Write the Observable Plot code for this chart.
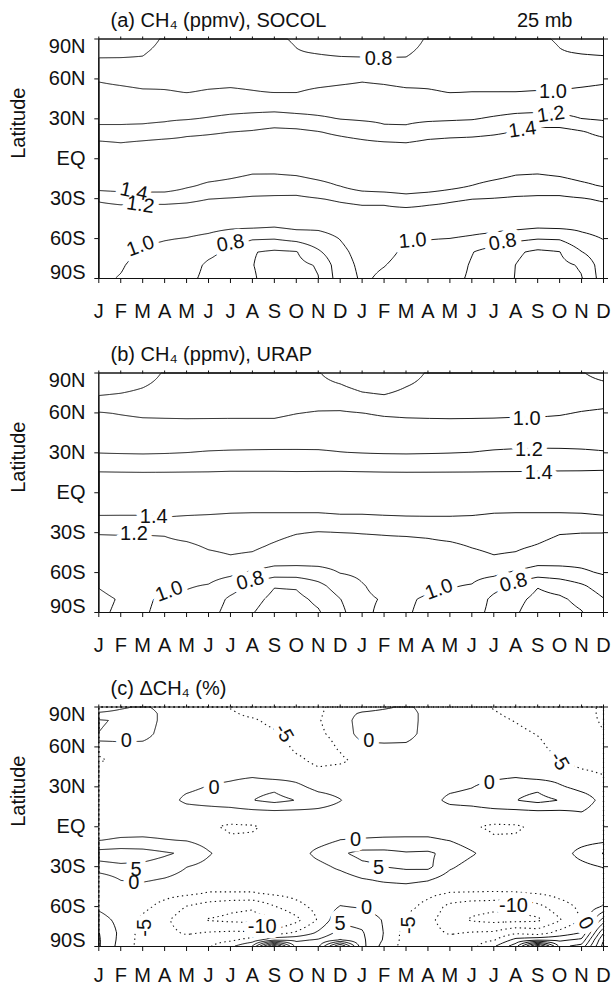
<!DOCTYPE html>
<html>
<head>
<meta charset="utf-8">
<script src="https://cdn.jsdelivr.net/npm/d3@7"></script>
<script src="https://cdn.jsdelivr.net/npm/@observablehq/plot@0.6"></script>
<style>
  html, body { margin: 0; padding: 0; background: #fff; }
  svg { display: block; }
</style>
</head>
<body>
<div id="chart"></div>
<script>
// ---- Axis categories ----
const monthLetters = ["J","F","M","A","M","J","J","A","S","O","N","D","J","F","M","A","M","J","J","A","S","O","N","D"];
const monthIndex = monthLetters.map((_, i) => i);
const latTicks = [90, 60, 30, 0, -30, -60, -90];
const latTickLabels = ["90N", "60N", "30N", "EQ", "30S", "60S", "90S"];

// ---- Grid latitudes (rows, north to south) ----
const latGridAB = [90, 80, 70, 60, 50, 40, 30, 20, 10, 0, -10, -20, -30, -40, -50, -60, -70, -80, -90];
const latGridC = [90, 85, 80, 70, 60, 50, 40, 30, 20, 10, 0, -10, -20, -30, -40, -50, -60, -70, -80, -85, -90];

// ---- (a) SOCOL CH4 (ppmv), 25 mb: rows = latGridAB, columns = 24 months ----
const ch4Socol = [
  [0.64,0.66,0.70,0.83,0.85,0.86, 0.86,0.85,0.83,0.78,0.71,0.68, 0.65,0.65,0.68,0.83,0.85,0.86, 0.86,0.85,0.83,0.78,0.71,0.68],
  [0.75,0.76,0.78,0.87,0.88,0.89, 0.89,0.88,0.87,0.81,0.79,0.77, 0.76,0.76,0.77,0.87,0.88,0.89, 0.89,0.88,0.87,0.81,0.79,0.776],
  [0.87,0.86,0.85,0.91,0.92,0.92, 0.925,0.92,0.91,0.87,0.867,0.867, 0.873,0.863,0.855,0.91,0.92,0.925, 0.925,0.92,0.91,0.875,0.87,0.872],
  [0.985,0.96,0.94,0.96,0.96,0.965, 0.97,0.965,0.955,0.94,0.945,0.962, 0.983,0.968,0.945,0.965,0.96,0.965, 0.965,0.965,0.96,0.945,0.95,0.969],
  [1.05,1.04,1.02,1.01,0.997,1.01, 1.016,1.006,0.997,0.997,1.028,1.045, 1.054,1.045,1.028,1.012,0.997,1.001, 1.001,1.001,1.006,1.01,1.03,1.045],
  [1.11,1.11,1.10,1.09,1.09,1.109, 1.122,1.126,1.127,1.115,1.121,1.121, 1.118,1.109,1.098,1.093,1.088,1.095, 1.108,1.121,1.124,1.116,1.115,1.113],
  [1.17,1.17,1.17,1.18,1.19,1.213, 1.241,1.261,1.28,1.257,1.227,1.196, 1.181,1.173,1.168,1.174,1.181,1.19, 1.222,1.254,1.27,1.25,1.201,1.18],
  [1.24,1.24,1.25,1.27,1.35,1.376, 1.401,1.42,1.458,1.448,1.41,1.358, 1.312,1.24,1.24,1.302,1.323,1.341, 1.37,1.41,1.47,1.48,1.42,1.337],
  [1.48,1.44,1.48,1.52,1.50,1.50, 1.51,1.52,1.53,1.53,1.52,1.50, 1.47,1.46,1.44,1.48,1.50,1.50, 1.51,1.52,1.53,1.54,1.52,1.50],
  [1.54,1.54,1.54,1.54,1.54,1.54, 1.54,1.54,1.54,1.54,1.54,1.54, 1.54,1.54,1.54,1.54,1.54,1.54, 1.54,1.54,1.54,1.54,1.54,1.54],
  [1.54,1.56,1.56,1.55,1.54,1.52, 1.47,1.42,1.42,1.44,1.49,1.52, 1.55,1.56,1.56,1.55,1.54,1.52, 1.49,1.43,1.42,1.45,1.50,1.52],
  [1.52,1.56,1.57,1.56,1.44,1.36, 1.33,1.29,1.28,1.29,1.34,1.41, 1.52,1.56,1.58,1.56,1.48,1.401, 1.34,1.30,1.28,1.30,1.36,1.42],
  [1.21,1.225,1.235,1.24,1.23,1.203, 1.192,1.18,1.176,1.17,1.195,1.22, 1.24,1.24,1.30,1.25,1.22,1.203, 1.195,1.18,1.176,1.17,1.19,1.22],
  [1.17,1.171,1.152,1.147,1.138,1.127, 1.115,1.107,1.102,1.10,1.12,1.146, 1.16,1.16,1.15,1.15,1.15,1.133, 1.12,1.11,1.10,1.10,1.12,1.14],
  [1.14,1.132,1.089,1.077,1.065,1.052, 1.038,1.05,1.03,1.07,1.045,1.07, 1.12,1.12,1.10,1.085,1.075,1.06, 1.06,1.08,1.05,1.06,1.05,1.07],
  [1.11,1.093,1.028,1.007,0.995,0.967, 0.91,0.82,0.81,0.86,0.93,1.005, 1.09,1.08,1.01,1.005,0.999,0.98, 0.95,0.85,0.81,0.82,0.95,1.005],
  [1.08,1.054,0.976,0.965,0.95,0.856, 0.75,0.61,0.57,0.59,0.77,0.96, 1.06,1.04,0.975,0.96,0.93,0.81, 0.70,0.63,0.56,0.595,0.795,0.95],
  [1.05,1.016,0.94,0.93,0.90,0.76, 0.70,0.605,0.53,0.55,0.615,0.925, 1.04,1.005,0.95,0.92,0.90,0.78, 0.70,0.598,0.52,0.55,0.62,0.92],
  [1.03,0.99,0.93,0.89,0.86,0.74, 0.66,0.62,0.52,0.53,0.595,0.90, 1.025,0.97,0.92,0.88,0.86,0.77, 0.67,0.595,0.51,0.53,0.59,0.90]
];

// ---- (b) URAP CH4 (ppmv) ----
const ch4Urap = [
  [0.64,0.66,0.70,0.82,0.84,0.85, 0.85,0.85,0.84,0.82,0.81,0.72, 0.66,0.64,0.70,0.82,0.84,0.85, 0.85,0.85,0.84,0.83,0.81,0.75],
  [0.71,0.74,0.79,0.86,0.88,0.885, 0.885,0.885,0.88,0.86,0.85,0.818, 0.75,0.72,0.796,0.86,0.88,0.885, 0.885,0.885,0.88,0.87,0.85,0.833],
  [0.84,0.855,0.877,0.91,0.92,0.925, 0.925,0.925,0.92,0.92,0.93,0.922, 0.867,0.847,0.884,0.91,0.92,0.925, 0.925,0.925,0.92,0.92,0.93,0.941],
  [1.01,0.99,0.972,0.97,0.97,0.97, 0.97,0.97,0.97,0.995,1.012,1.016, 1.001,0.98,0.972,0.97,0.97,0.97, 0.97,0.975,0.975,0.985,1.009,1.027],
  [1.072,1.061,1.049,1.044,1.039,1.041, 1.043,1.043,1.043,1.067,1.078,1.079, 1.066,1.057,1.048,1.043,1.039,1.042, 1.047,1.052,1.054,1.063,1.077,1.086],
  [1.135,1.126,1.119,1.119,1.12,1.124, 1.127,1.128,1.129,1.139,1.143,1.142, 1.131,1.124,1.118,1.117,1.118,1.122, 1.13,1.136,1.139,1.141,1.144,1.145],
  [1.197,1.192,1.188,1.193,1.201,1.213, 1.219,1.222,1.224,1.221,1.218,1.205, 1.197,1.191,1.188,1.192,1.197,1.204, 1.22,1.229,1.233,1.23,1.222,1.21],
  [1.34,1.334,1.33,1.332,1.336,1.34, 1.35,1.35,1.35,1.345,1.348,1.349, 1.342,1.335,1.332,1.333,1.335,1.337, 1.342,1.345,1.349,1.355,1.357,1.359],
  [1.48,1.48,1.48,1.48,1.48,1.48, 1.48,1.48,1.48,1.48,1.48,1.48, 1.48,1.48,1.48,1.48,1.48,1.48, 1.48,1.48,1.48,1.48,1.48,1.49],
  [1.55,1.55,1.55,1.55,1.55,1.55, 1.55,1.55,1.55,1.55,1.55,1.55, 1.55,1.55,1.55,1.55,1.55,1.55, 1.55,1.55,1.55,1.55,1.55,1.55],
  [1.49,1.49,1.49,1.50,1.50,1.49, 1.47,1.46,1.46,1.46,1.47,1.48, 1.48,1.49,1.49,1.50,1.50,1.50, 1.47,1.46,1.46,1.46,1.47,1.49],
  [1.362,1.36,1.36,1.38,1.36,1.35, 1.34,1.34,1.34,1.34,1.33,1.35, 1.35,1.36,1.37,1.37,1.37,1.36, 1.34,1.34,1.34,1.34,1.34,1.36],
  [1.208,1.21,1.21,1.215,1.26,1.29, 1.29,1.28,1.25,1.21,1.19,1.198, 1.205,1.21,1.22,1.23,1.26,1.28, 1.29,1.28,1.26,1.21,1.202,1.201],
  [1.154,1.16,1.155,1.16,1.17,1.22, 1.24,1.23,1.18,1.13,1.14,1.14, 1.15,1.16,1.15,1.16,1.17,1.21, 1.24,1.23,1.19,1.14,1.14,1.14],
  [1.105,1.12,1.11,1.11,1.10,1.15, 1.18,1.16,1.10,1.09,1.08,1.075, 1.09,1.12,1.11,1.11,1.10,1.14, 1.18,1.16,1.09,1.08,1.06,1.08],
  [1.056,1.09,1.07,1.07,1.055,1.067, 1.04,0.97,0.90,0.90,0.93,1.005, 1.03,1.08,1.07,1.07,1.05,1.06, 1.05,0.97,0.90,0.92,0.97,1.02],
  [1.007,1.05,1.04,1.03,1.012,0.99, 0.90,0.74,0.61,0.62,0.74,0.90, 0.99,1.05,1.04,1.025,1.01,0.99, 0.873,0.74,0.61,0.67,0.77,0.90],
  [0.97,1.01,1.015,0.985,0.97,0.93, 0.76,0.66,0.55,0.55,0.64,0.795, 0.975,1.01,1.015,0.985,0.965,0.93, 0.75,0.65,0.55,0.57,0.65,0.79],
  [0.98,1.02,1.01,0.977,0.93,0.88, 0.72,0.61,0.50,0.52,0.58,0.74, 0.97,1.03,1.01,0.975,0.93,0.88, 0.74,0.62,0.50,0.53,0.59,0.75]
];

// ---- (c) Delta CH4 (%): rows = latGridC ----
const dCh4 = [
  [-4,-1,1,-2,-3,-3, -5.2,-6.5,-7,-7,-6,-3, -3,-1,1,-2,-3,-3, -5.3,-6.5,-7,-7.5,-7,-4],
  [1,2,3,-1.5,-3,-3, -4.5,-5.8,-6.8,-7,-5.5,-3, 1,2,2.5,-2,-3,-3, -4.6,-6,-7,-7.5,-7,-4],
  [5.4,4.5,3,-1.5,-3,-3, -4,-4.5,-6,-7,-5.2,-3.5, 3,3,2.5,-2,-3,-3, -4,-5.2,-6.5,-7.5,-6.5,-4.5],
  [4.95,4,2,-2,-3,-3, -3.5,-3.5,-4.5,-6.5,-5.5,-4, 2.5,3,2,-2,-3,-3, -3.5,-4,-5.2,-7,-6.5,-5.2],
  [-4,-2.5,-1.5,-2.5,-3,-3, -3,-3,-3,-5.8,-6.5,-4.6, -1.5,-1.2,-1,-2.5,-3,-3, -3,-3,-4,-6.5,-7,-6.5],
  [-5.5,-4,-3,-2.5,-2.5,-2.5, -2.5,-2.5,-2.5,-4.2,-6,-5.6, -4,-3,-2.5,-2.5,-2.5,-2.5, -2.5,-2.5,-2.5,-5.2,-6.5,-6.5],
  [-2,-3,-2.5,-1.5,-1.5,-2.5, -2,-1.5,-3.2,-2.5,-4,-3.5, -3,-3,-3,-2.5,-2,-2.5, -2,-1.5,-3.2,-2.5,-4.2,-5.2],
  [-2.5,-2.5,-2.5,-1.5,-1,0.2, 1.5,3.5,4,1.2,-1.5,-2, -2.5,-2.5,-2.5,-2,-1.2,-0.2, 2,3.5,4,0.6,-1.5,-2.5],
  [-2.5,-2.5,-2.5,-2,1,2, 3,4.9,6.5,4.9,2.5,0.2, -2.5,-2.5,-2.5,-2,1.2,2, 3.5,4.9,6.5,4.9,2.5,-1.5],
  [-2.5,-2.5,-2.5,-2.5,-2.5,-2.5, -2.5,-2,-1.8,-1.8,-1.5,-2, -2.5,-2.5,-2.5,-2.5,-2.5,-2.5, -2,-2,-1.7,-1.5,-0.3,-2.5],
  [-2.5,-2.5,-2.5,-2.5,-3,-4.5, -5.6,-5.4,-4,-3,-2.5,-2.5, -2.5,-2.5,-2.5,-2.5,-3,-4.6, -5.7,-5.5,-4.2,-2.5,-2.5,-2.5],
  [-0.2,0.6,0.8,0.2,-0.3,-2, -4.5,-4.4,-3.5,-2.5,-2,0.05, 0.4,0.7,0.8,0.8,-0.2,-2.5, -4.5,-4.5,-3.5,-2.5,-2,-1.2],
  [7,7.5,7,5.6,4.3,0.5, -2.5,-2.5,-2.5,-2.5,1.5,4.2, 6.5,6.5,5.5,5.8,3.5,0.6, -2.5,-2.5,-2.5,-2.5,1.8,5.3],
  [3.5,4.2,4,3,0.1,-1.5, -2.5,-2.5,-2.5,-2.5,-1.5,1, 3.8,5.05,6,6.2,0.8,-2, -2.5,-2.5,-2.5,-2.5,-1.5,0.3],
  [-4,0.1,0.6,-0.5,-2,-2.5, -2.5,-2.5,-2.5,-2.5,-2.5,-2.5, -0.5,0.6,1.2,0.3,-2.5,-2.5, -2.5,-2.5,-2.5,-2.5,-2.5,-3],
  [-2.5,-3,-3,-3.5,-4,-5.3, -5.3,-5.3,-4.2,-3.5,-2.5,-2.5, -2.5,-3,-3,-3.8,-5.2,-5.3, -5.4,-5.3,-4.8,-3.5,-2.5,-2.5],
  [-1,-3,-3.8,-6.5,-10.2,-12.5, -14,-14.5,-10.3,-6.5,-3.5,0.2, -0.5,-2.5,-3.5,-6.5,-11.5,-13.5, -14,-14.5,-11.5,-7,-4,0.5],
  [2,-1.5,-6,-9,-13,-15.3, -16,-16.5,-16.5,-11.5,-4.5,4, 3.5,-0.5,-6,-8.5,-13,-15.5, -16.5,-16.5,-16,-10.5,-4.5,12],
  [5.2,-1.2,-7,-8.5,-10.5,-9.5, -9,-9,-7,-4,1,7, 5.5,-0.2,-7,-8,-10.5,-9.5, -9,-5.5,-7,-3,0.5,25],
  [5.5,-1.5,-7,-7.5,-8,-7, -6,-3,3.5,4,5.5,10, 6,-0.5,-7,-7.5,-8,-7, -5.5,1.5,3.5,4,6,30],
  [5.5,-2,-7,-7,-6.5,-5.5, -1,5.5,35,8,9,32, 6.5,-2,-7,-7,-7,-6.5, -0.5,8,35,9,12,32]
];

// ---- Contour levels ----
const levelsAB = [0.6, 0.8, 1.0, 1.2, 1.4];
const levelsCpos = [0, 5, 10, 15, 20, 25, 30];
const levelsCneg = [-15, -10, -5];

// ---- Contour labels (month position, latitude, text, rotation) ----
const labelsA = [
  {m: 12.75, lat: 75.5, t: "0.8", r: 0},
  {m: 20.7, lat: 50.5, t: "1.0", r: 0},
  {m: 20.6, lat: 33.5, t: "1.2", r: -8},
  {m: 19.3, lat: 22, t: "1.4", r: -8},
  {m: 1.6, lat: -24.5, t: "1.4", r: 12},
  {m: 1.9, lat: -34.5, t: "1.2", r: 8},
  {m: 1.9, lat: -65.5, t: "1.0", r: -20},
  {m: 6.0, lat: -63.5, t: "0.8", r: -10},
  {m: 14.3, lat: -61.5, t: "1.0", r: -5},
  {m: 18.4, lat: -62.5, t: "0.8", r: -10}
];
const labelsB = [
  {m: 19.5, lat: 55.5, t: "1.0", r: 0},
  {m: 19.6, lat: 32.8, t: "1.2", r: 0},
  {m: 20.05, lat: 15.4, t: "1.4", r: 0},
  {m: 2.5, lat: -17.6, t: "1.4", r: 0},
  {m: 1.6, lat: -31, t: "1.2", r: 0},
  {m: 3.2, lat: -74, t: "1.0", r: -20},
  {m: 6.9, lat: -66, t: "0.8", r: -15},
  {m: 15.5, lat: -72.5, t: "1.0", r: -20},
  {m: 18.9, lat: -67.5, t: "0.8", r: -15}
];
const labelsC = [
  {m: 1.25, lat: 64.4, t: "0", r: 0},
  {m: 8.45, lat: 70.5, t: "-5", r: 60},
  {m: 12.3, lat: 64.5, t: "0", r: 0},
  {m: 21.0, lat: 49.5, t: "-5", r: 60},
  {m: 5.25, lat: 29.5, t: "0", r: 0},
  {m: 17.8, lat: 33, t: "0", r: 0},
  {m: 11.7, lat: -10, t: "0", r: 0},
  {m: 12.75, lat: -30.5, t: "5", r: 0},
  {m: 1.7, lat: -32.5, t: "5", r: 0},
  {m: 1.6, lat: -42, t: "0", r: 0},
  {m: 2.1, lat: -76, t: "-5", r: -90},
  {m: 7.45, lat: -75, t: "-10", r: 0},
  {m: 12.2, lat: -60.8, t: "0", r: 0},
  {m: 11.0, lat: -72.5, t: "5", r: 0},
  {m: 14.1, lat: -74, t: "-5", r: -90},
  {m: 18.9, lat: -59, t: "-10", r: 0},
  {m: 22.2, lat: -72.5, t: "0", r: 60}
];

// Bilinear sampling of a (lat x month) grid, for Plot.contour's value function
function gridField(grid, lats) {
  const nx = grid[0].length;
  return (x, y) => {
    const mx = Math.max(0, Math.min(nx - 1 - 1e-9, x));
    const i = Math.floor(mx), tx = mx - i;
    const yy = Math.max(lats[lats.length - 1], Math.min(lats[0], y));
    let j = 0;
    while (j < lats.length - 2 && yy < lats[j + 1]) j++;
    const ty = (lats[j] - yy) / (lats[j] - lats[j + 1]);
    const a = grid[j][i], b = grid[j][i + 1], c = grid[j + 1][i], d = grid[j + 1][i + 1];
    return (a * (1 - tx) + b * tx) * (1 - ty) + (c * (1 - tx) + d * tx) * ty;
  };
}

const FONT = "'Liberation Sans', Arial, Helvetica, sans-serif";
const INK = "#111";
const xExtent = [0, monthIndex.length - 1];

function panel({grid, lats, solid, dotted, labels, title, note, height, marginBottom, monthDy}) {
  const f = gridField(grid, lats);
  const bounds = {x1: xExtent[0], x2: xExtent[1], y1: lats[0], y2: lats[lats.length - 1]};
  const marks = [
    Plot.contour(null, {...bounds, value: f, thresholds: solid, stroke: INK, fill: "none", strokeWidth: 1, pixelSize: 1})
  ];
  if (dotted) {
    marks.push(Plot.contour(null, {...bounds, value: f, thresholds: dotted, stroke: INK, fill: "none", strokeWidth: 1.1, strokeDasharray: "1.4,3.4", pixelSize: 1}));
  }
  const labelOpts = {x: "m", y: "lat", text: "t", rotate: "r", fontSize: 20};
  marks.push(
    // white knock-out behind the contour labels, then the labels themselves
    Plot.text(labels, {...labelOpts, fill: "white", stroke: "white", strokeWidth: 11, strokeLinejoin: "round"}),
    Plot.text(labels, {...labelOpts, fill: INK}),
    Plot.frame({stroke: INK}),
    Plot.axisX({anchor: "bottom", ticks: monthIndex, tickSize: 5, tickFormat: () => "", label: null}),
    Plot.axisX({anchor: "top", ticks: monthIndex, tickSize: 3, tickFormat: () => "", label: null}),
    Plot.axisY({anchor: "left", ticks: latTicks, tickSize: 4, tickFormat: () => "", label: null}),
    Plot.axisY({anchor: "right", ticks: latTicks, tickSize: 4, tickFormat: () => "", label: null}),
    Plot.text(monthIndex, {x: d => d, text: d => monthLetters[d], frameAnchor: "bottom", lineAnchor: "middle", dy: monthDy, fontSize: 20, fill: INK}),
    Plot.text(latTicks.slice(1, -1), {y: d => d, text: d => latTickLabels[latTicks.indexOf(d)], frameAnchor: "left", lineAnchor: "middle", dx: -13.3, textAnchor: "end", fontSize: 20, fill: INK}),
    Plot.text([latTicks[0]], {y: d => d, text: () => latTickLabels[0], frameAnchor: "left", lineAnchor: "middle", dx: -13.3, dy: 7.5, textAnchor: "end", fontSize: 20, fill: INK}),
    Plot.text([latTicks[6]], {y: d => d, text: () => latTickLabels[6], frameAnchor: "left", lineAnchor: "middle", dx: -13.3, dy: -6, textAnchor: "end", fontSize: 20, fill: INK}),
    Plot.text(["Latitude"], {text: d => d, frameAnchor: "left", lineAnchor: "middle", dx: -80, rotate: -90, fontSize: 20, fill: INK}),
    Plot.text([title], {text: d => d, frameAnchor: "top-left", lineAnchor: "middle", dx: 11.7, dy: -18.4, textAnchor: "start", fontSize: 20, fill: INK})
  );
  if (note) {
    marks.push(Plot.text([note], {text: d => d, frameAnchor: "top-right", lineAnchor: "middle", dx: -31, dy: -18.4, textAnchor: "end", fontSize: 20, fill: INK}));
  }
  return Plot.plot({
    width: 613,
    height,
    marginTop: 38.5,
    marginBottom,
    marginLeft: 98.3,
    marginRight: 10,
    x: {domain: xExtent},
    y: {domain: [-90, 90]},
    style: {fontFamily: FONT, fontSize: "20px", background: "white", color: INK},
    marks
  });
}

const root = document.getElementById("chart");
root.append(panel({grid: ch4Socol, lats: latGridAB, solid: levelsAB, labels: labelsA,
  title: "(a) CH\u2084 (ppmv), SOCOL", note: "25 mb", height: 334, marginBottom: 56, monthDy: 33.5}));
root.append(panel({grid: ch4Urap, lats: latGridAB, solid: levelsAB, labels: labelsB,
  title: "(b) CH\u2084 (ppmv), URAP", height: 334, marginBottom: 56, monthDy: 33.5}));
root.append(panel({grid: dCh4, lats: latGridC, solid: levelsCpos, dotted: levelsCneg, labels: labelsC,
  title: "(c) \u0394CH\u2084 (%)", height: 319, marginBottom: 41, monthDy: 29.5}));
</script>
</body>
</html>
